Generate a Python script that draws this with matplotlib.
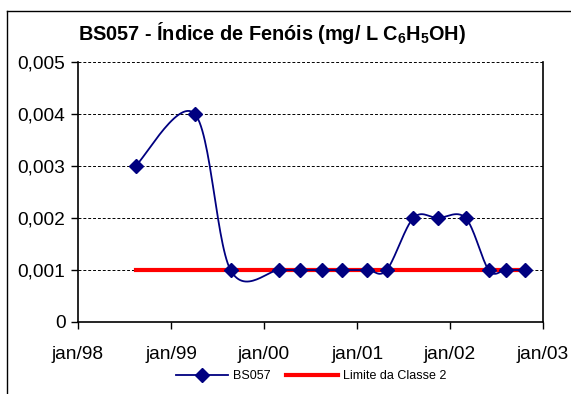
import numpy as np
import pandas as pd
import matplotlib
matplotlib.use("Agg")
import matplotlib.pyplot as plt
import matplotlib.dates as mdates
from matplotlib.lines import Line2D

plt.rcParams["font.family"] = ["Liberation Sans", "DejaVu Sans"]
plt.rcParams["mathtext.default"] = "regular"

# sample dates and phenol index values (mg/L C6H5OH)
dates = ["1998-08-15", "1999-04-05", "1999-08-23", "2000-03-01", "2000-05-20",
         "2000-08-15", "2000-11-01", "2001-02-10", "2001-04-27", "2001-08-10",
         "2001-11-14", "2002-03-03", "2002-06-02", "2002-08-08", "2002-10-22"]
values = [0.003, 0.004, 0.001, 0.001, 0.001,
          0.001, 0.001, 0.001, 0.001, 0.002,
          0.002, 0.002, 0.001, 0.001, 0.001]
limit_class2 = 0.001

x = mdates.date2num(pd.to_datetime(dates))
y = np.array(values)


def smooth(xs, ys, n=30):
    # cubic Bezier through every point, control points from the neighbours
    px = np.concatenate([[xs[0]], xs, [xs[-1]]])
    py = np.concatenate([[ys[0]], ys, [ys[-1]]])
    outx, outy = [], []
    t = np.linspace(0, 1, n)
    for i in range(1, len(px) - 2):
        p1 = np.array([px[i], py[i]])
        p2 = np.array([px[i + 1], py[i + 1]])
        c1 = p1 + (p2 - np.array([px[i - 1], py[i - 1]])) / 6
        c2 = p2 - (np.array([px[i + 2], py[i + 2]]) - p1) / 6
        b = ((1 - t) ** 3)[:, None] * p1 + (3 * (1 - t) ** 2 * t)[:, None] * c1 \
            + (3 * (1 - t) * t ** 2)[:, None] * c2 + (t ** 3)[:, None] * p2
        outx.extend(b[:, 0])
        outy.extend(b[:, 1])
    return np.array(outx), np.array(outy)


fig = plt.figure(figsize=(5.71, 3.94), dpi=100)
W, H = 571, 394
ax = fig.add_axes([78 / W, 1 - 322 / H, (543 - 78) / W, (322 - 62) / H])

# chart frame
fig.add_artist(Line2D([7 / W, 1], [1 - 11 / H, 1 - 11 / H], color="black", lw=1))
fig.add_artist(Line2D([7 / W, 7 / W], [1 - 11 / H, 0], color="black", lw=1))

navy = "#000080"
sx, sy = smooth(x, y)
ax.plot(sx, sy, color=navy, lw=1.3, zorder=3)
ax.plot(x, y, ls="none", marker="D", ms=7, color=navy, zorder=4)
ax.plot([x[0], x[-1]], [limit_class2, limit_class2], color="#FF0000", lw=3, zorder=2)

ax.set_xlim(mdates.date2num(pd.Timestamp("1998-01-01")),
            mdates.date2num(pd.Timestamp("2003-01-01")))
ax.set_ylim(0, 0.005)
ax.set_yticks(np.arange(0, 0.0051, 0.001))
ax.set_yticklabels(["0", "0,001", "0,002", "0,003", "0,004", "0,005"])
years = pd.date_range("1998-01-01", "2003-01-01", freq="YS")
ax.set_xticks(mdates.date2num(years))
ax.set_xticklabels([f"jan/{d.year % 100:02d}" for d in years])
ax.tick_params(labelsize=13.8, length=5, width=1, direction="out", color="black")
ax.tick_params(axis="x", pad=12)
ax.tick_params(axis="y", pad=4)
ax.grid(axis="y", color="black", ls=(0, (3, 2)), lw=0.7)
ax.set_axisbelow(True)
ax.spines["top"].set_visible(False)
for s in ("left", "bottom", "right"):
    ax.spines[s].set_linewidth(1.2)

fig.text(272 / W, 1 - 33 / H, r"BS057 - Índice de Fenóis (mg/ L C$_6$H$_5$OH)",
         ha="center", va="center", fontsize=14.3, fontweight="bold")

handles = [Line2D([], [], color=navy, lw=1.3, marker="D", ms=7),
           Line2D([], [], color="#FF0000", lw=3)]
fig.legend(handles, ["BS057", "Limite da Classe 2"], loc="center",
           bbox_to_anchor=(311 / W, 1 - 376 / H), ncol=2, frameon=False,
           fontsize=9, handlelength=4.2, handletextpad=0.4, columnspacing=1.2)

fig.savefig("out.png", dpi=100)
